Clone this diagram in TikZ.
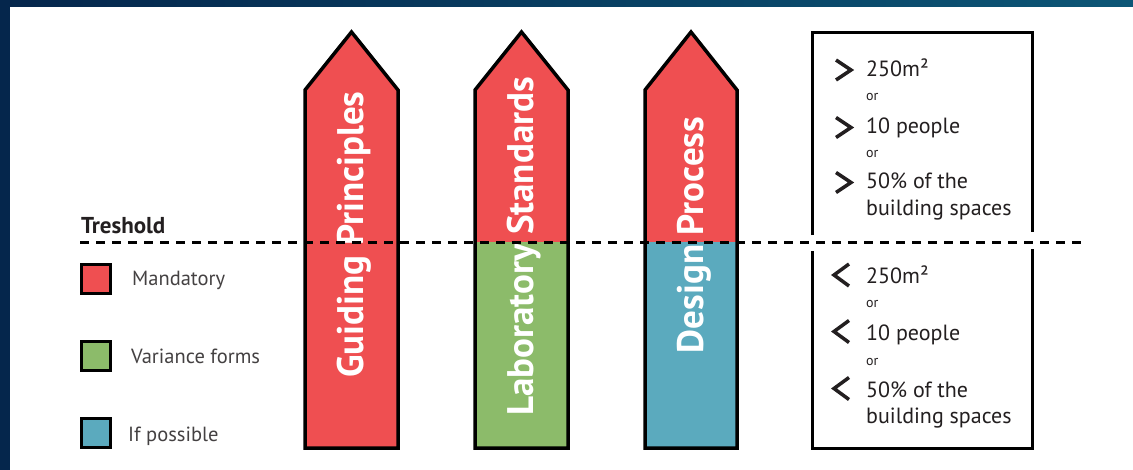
\documentclass[tikz,border=0pt]{standalone}
\usepackage{fontspec}
\setmainfont{PT Sans}
\usetikzlibrary{positioning}

\definecolor{mandred}{RGB}{239,79,81}
\definecolor{vargreen}{RGB}{140,187,106}
\definecolor{possblue}{RGB}{91,170,190}
\definecolor{slidenavy}{RGB}{5,38,76}
\definecolor{slideteal}{RGB}{12,86,118}
\definecolor{ink}{RGB}{35,31,32}

\begin{document}
\begin{tikzpicture}[x=1pt,y=-1pt,
      outl/.style={draw=black,line width=3.5pt,line join=miter},
      boxl/.style={draw=black,line width=3pt},
      thresh/.style={draw=black,line width=3pt,dash pattern=on 9pt off 7pt},
      chev/.style={draw=ink,line width=3.5pt,line join=miter},
      lbl/.style={rotate=90,anchor=base,text=white,inner sep=0pt,
        font=\fontsize{37}{37}\selectfont\bfseries},
      key/.style={draw=black,line width=3pt,minimum size=29pt,inner sep=0pt},
      keytxt/.style={anchor=base west,text=ink!85,inner sep=0pt,font=\fontsize{20.5}{20.5}\selectfont},
      cond/.style={anchor=base west,text=ink,inner sep=0pt,font=\fontsize{22}{22}\selectfont},
      orr/.style={anchor=base west,text=ink,inner sep=0pt,font=\fontsize{14}{14}\selectfont}]
    \useasboundingbox (0,0) rectangle (1133,469);
    \shade[left color=slidenavy,right color=slideteal] (0,0) rectangle (1133,469);
    \fill[white] (10,7) rectangle (1140,475);

    % pillars
    \fill[mandred] (305,448) -- (305,90) -- (351.5,32) -- (398,90) -- (398,448) -- cycle;
    \draw[outl] (305,448) -- (305,90) -- (351.5,32) -- (398,90) -- (398,448) -- cycle;
    \fill[mandred] (475,448) -- (475,90) -- (521.5,32) -- (568,90) -- (568,448) -- cycle;
    \fill[vargreen] (475,242) rectangle (568,448);
    \draw[outl] (475,448) -- (475,90) -- (521.5,32) -- (568,90) -- (568,448) -- cycle;
    \fill[mandred] (645,448) -- (645,90) -- (691,32) -- (737,90) -- (737,448) -- cycle;
    \fill[possblue] (645,242) rectangle (737,448);
    \draw[outl] (645,448) -- (645,90) -- (691,32) -- (737,90) -- (737,448) -- cycle;

    \node[lbl] (gp) at (363,234.5) {Guiding Principles};
    \node[lbl] (ls) at (533,246.5) {Laboratory Standards};
    \node[lbl] (dp) at (703,235) {Design Process};

    % threshold
    \coordinate (thl) at (80,242);
    \coordinate (thr) at (1083,242);
    \draw[thresh] (thl) -- (thr);
    \node[anchor=base west,inner sep=0pt,text=ink,font=\fontsize{23}{23}\selectfont\bfseries]
      (tlabel) at (81,233) {Treshold};

    % legend
    \node[key,fill=mandred] (kred) at (96,278.5) {};
    \node[key,fill=vargreen] (kgreen) at (96,355.5) {};
    \node[key,fill=possblue] (kblue) at (96,432.5) {};
    \node[keytxt] (tred) at (132,285) {Mandatory};
    \node[keytxt] (tgreen) at (131,363) {Variance forms};
    \node[keytxt] (tblue) at (128,441) {If possible};

    % conditions box
    \draw[boxl] (812,235) -- (812,32) -- (1032,32) -- (1032,232);
    \draw[boxl] (812,251) -- (812,448) -- (1032,448) -- (1032,249);
    \foreach \cy in {70,127.5,182.5}
      \draw[chev] (836,\cy-10) -- (851,\cy) -- (836,\cy+10);
    \foreach \cy in {275,331.5,388.5}
      \draw[chev] (849,\cy-11) -- (834,\cy) -- (849,\cy+11);
    \node[cond] (a1) at (866,76) {250m²};
    \node[orr] (o1) at (866,100) {or};
    \node[cond] (a2) at (866,133) {10 people};
    \node[orr] (o2) at (866,157) {or};
    \node[cond] (a3) at (866,188) {50\% of the};
    \node[cond] (a4) at (866,215) {building spaces};
    \node[cond] (b1) at (866,283) {250m²};
    \node[orr] (o3) at (866,307) {or};
    \node[cond] (b2) at (866,340) {10 people};
    \node[orr] (o4) at (866,365) {or};
    \node[cond] (b3) at (866,397) {50\% of the};
    \node[cond] (b4) at (866,423) {building spaces};
  \end{tikzpicture}
\end{document}
